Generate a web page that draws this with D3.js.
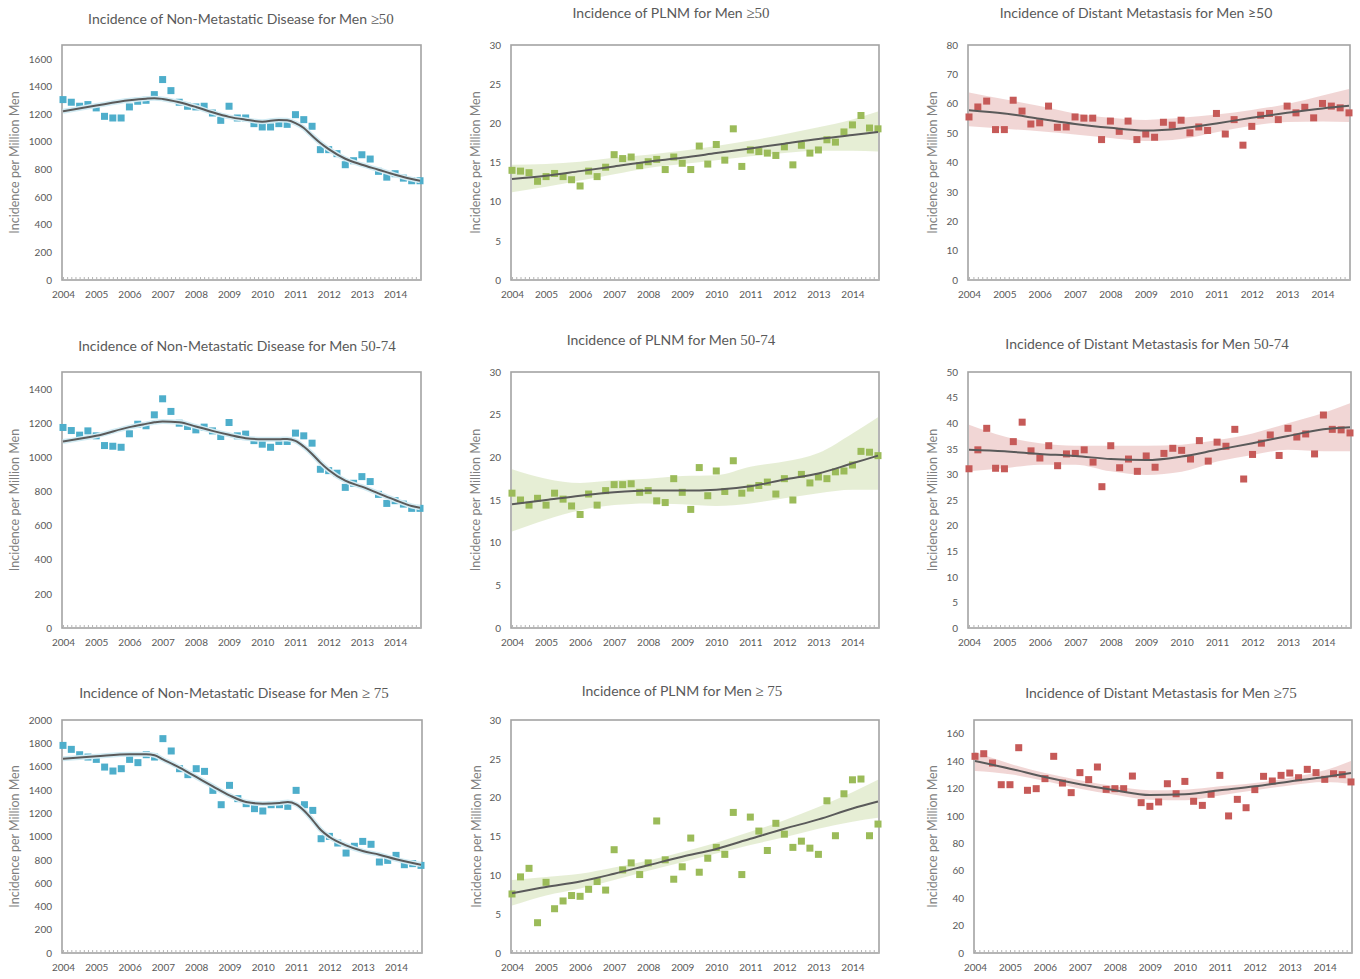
<!DOCTYPE html>
<html lang="en">

<head>
    <meta charset="UTF-8">
    <script src="https://cdn.jsdelivr.net/npm/d3@7"></script>
    <title>Incidence per Million Men</title>
    <style>
        body { margin: 0; background: #fff; }
        svg text { font-family: Lato, "Open Sans", sans-serif; }
    </style>
</head>

<body>
    <svg id="chart" width="1360" height="979"></svg>
</body>
<script>
    // quarters 2004 Q1 .. 2014 Q4
    var quarters = d3.range(44).map(function(i) { return 2004 + i / 4; });
    var yearTicks = [2004, 2005, 2006, 2007, 2008, 2009, 2010, 2011, 2012, 2013, 2014];

    // observed quarterly incidence
    var nonMet50 = [1305, 1286, 1257, 1269, 1245, 1184, 1172, 1172, 1252, 1293, 1300, 1341, 1450, 1370, 1286, 1257, 1252, 1257, 1208, 1155, 1257, 1172, 1172, 1131, 1107, 1107, 1131, 1126, 1196, 1160, 1112, 943, 943, 914, 834, 863, 906, 875, 786, 744, 769, 737, 718, 718];
    var nonMet5074 = [1175, 1157, 1130, 1155, 1126, 1069, 1065, 1059, 1138, 1194, 1185, 1249, 1343, 1269, 1200, 1181, 1161, 1177, 1155, 1122, 1204, 1126, 1136, 1098, 1077, 1059, 1093, 1093, 1142, 1126, 1083, 930, 922, 907, 824, 848, 887, 858, 783, 730, 746, 726, 701, 701];
    var nonMet75 = [1782, 1748, 1702, 1682, 1662, 1596, 1562, 1582, 1662, 1634, 1702, 1682, 1840, 1734, 1582, 1531, 1582, 1559, 1396, 1273, 1439, 1325, 1282, 1239, 1219, 1273, 1273, 1259, 1396, 1273, 1224, 981, 1001, 944, 858, 916, 958, 933, 781, 795, 838, 758, 767, 752];
    var plnm50 = [14.0, 13.9, 13.7, 12.6, 13.2, 13.6, 13.2, 12.8, 12.0, 13.9, 13.2, 14.4, 16.0, 15.5, 15.7, 14.6, 15.1, 15.4, 14.1, 15.7, 14.9, 14.1, 17.1, 14.8, 17.3, 15.3, 19.3, 14.5, 16.6, 16.4, 16.2, 15.9, 17.0, 14.7, 17.2, 16.2, 16.6, 17.9, 17.6, 18.9, 19.8, 21.0, 19.4, 19.3];
    var plnm5074 = [15.8, 15.0, 14.4, 15.2, 14.4, 15.8, 15.1, 14.3, 13.3, 15.7, 14.4, 16.1, 16.8, 16.8, 16.9, 15.9, 16.1, 14.9, 14.7, 17.5, 15.9, 13.9, 18.8, 15.5, 18.4, 16.0, 19.6, 15.8, 16.4, 16.7, 17.1, 15.7, 17.5, 15.0, 18.0, 17.0, 17.7, 17.5, 18.3, 18.4, 19.1, 20.7, 20.6, 20.2];
    var plnm75 = [7.6, 9.8, 10.9, 3.9, 9.1, 5.7, 6.7, 7.4, 7.3, 8.2, 9.2, 8.1, 13.3, 10.7, 11.6, 10.1, 11.6, 17.0, 12.0, 9.5, 11.1, 14.8, 10.4, 12.2, 13.6, 12.7, 18.1, 10.1, 17.5, 15.7, 13.2, 16.7, 15.3, 13.6, 14.4, 13.5, 12.7, 19.6, 15.1, 20.5, 22.3, 22.4, 15.1, 16.6];
    var dist50 = [55.5, 58.9, 60.9, 51.2, 51.2, 61.2, 57.5, 53.1, 53.5, 59.2, 52.0, 52.1, 55.5, 55.1, 55.1, 47.8, 54.1, 50.6, 54.1, 47.8, 49.7, 48.6, 53.7, 52.7, 54.4, 50.1, 52.1, 50.9, 56.7, 49.7, 54.6, 45.9, 52.3, 56.1, 56.7, 54.6, 59.2, 56.9, 58.8, 55.2, 60.1, 59.2, 58.6, 56.9];
    var dist5074 = [31.1, 34.8, 39.0, 31.2, 31.1, 36.4, 40.2, 34.6, 33.2, 35.6, 31.7, 34.0, 34.1, 34.8, 32.4, 27.6, 35.6, 31.3, 33.0, 30.6, 33.6, 31.4, 34.1, 35.1, 34.7, 33.0, 36.6, 32.6, 36.3, 35.5, 38.8, 29.1, 33.9, 36.1, 37.7, 33.7, 39.0, 37.3, 37.9, 34.0, 41.6, 38.8, 38.7, 38.1];
    var dist75 = [143.5, 145.4, 138.6, 122.8, 122.8, 149.8, 118.7, 119.9, 127.2, 143.5, 124.0, 117.0, 131.6, 126.5, 135.7, 119.4, 119.9, 119.9, 129.1, 109.7, 107.0, 110.2, 123.5, 116.2, 125.2, 110.7, 107.7, 115.8, 129.6, 100.0, 112.1, 106.0, 119.2, 128.9, 125.5, 129.6, 131.3, 127.9, 134.0, 131.6, 126.7, 130.8, 130.1, 124.8];

    // smoothed fits (non-metastatic: read at these points)
    var nonMetFitX = [2004, 2005, 2006, 2006.5, 2006.75, 2007, 2007.5, 2008, 2008.5, 2009, 2009.5, 2010, 2010.5, 2010.75, 2011, 2011.25, 2011.5, 2011.75, 2012, 2012.5, 2013, 2013.5, 2014, 2014.5, 2014.75];
    var nonMet50Fit = [1220, 1262, 1300, 1312, 1315, 1310, 1286, 1252, 1213, 1180, 1160, 1145, 1158, 1155, 1135, 1100, 1044, 991, 947, 877, 834, 798, 761, 730, 718];
    var nonMet5074Fit = [1093, 1126, 1177, 1196, 1205, 1210, 1206, 1181, 1155, 1132, 1112, 1106, 1106, 1108, 1096, 1063, 1020, 969, 926, 863, 828, 789, 750, 715, 705];
    var nonMet75Fit = [1668, 1688, 1705, 1705, 1697, 1662, 1591, 1511, 1431, 1353, 1296, 1282, 1288, 1296, 1276, 1219, 1139, 1053, 996, 924, 875, 844, 804, 772, 758];

    // fits with confidence bands (yearly)
    var bandX = [2004, 2005, 2006, 2007, 2008, 2009, 2010, 2011, 2012, 2013, 2014, 2014.75];
    var plnm50Fit = [12.9, 13.3, 13.9, 14.5, 15.1, 15.6, 16.2, 16.8, 17.4, 18.0, 18.5, 18.9];
    var plnm50Lo = [11.2, 11.9, 12.7, 13.5, 14.3, 14.8, 15.3, 15.8, 16.2, 16.5, 16.5, 16.4];
    var plnm50Hi = [14.7, 14.8, 15.1, 15.6, 16.0, 16.5, 17.1, 17.8, 18.6, 19.5, 20.5, 21.5];
    var plnm5074Fit = [14.5, 15.0, 15.5, 15.9, 16.1, 16.1, 16.2, 16.6, 17.4, 18.1, 19.3, 20.2];
    var plnm5074Lo = [11.3, 12.7, 13.8, 14.4, 14.6, 14.5, 14.3, 14.6, 15.2, 15.8, 16.2, 16.2];
    var plnm5074Hi = [18.6, 17.5, 17.0, 17.3, 17.5, 17.8, 17.9, 18.9, 19.5, 20.5, 22.8, 24.7];
    var plnm75Fit = [7.7, 8.5, 9.2, 10.2, 11.3, 12.4, 13.4, 14.7, 16.0, 17.2, 18.6, 19.5];
    var plnm75Lo = [6.1, 7.4, 8.3, 9.4, 10.6, 11.7, 12.8, 13.9, 14.9, 16.0, 16.9, 17.4];
    var plnm75Hi = [9.4, 9.8, 10.2, 11.0, 11.9, 13.0, 14.2, 15.6, 17.1, 18.8, 20.7, 22.3];
    var dist50Fit = [57.8, 56.7, 54.9, 53.1, 51.8, 50.9, 51.6, 53.3, 55.2, 56.9, 58.4, 59.3];
    var dist50Lo = [52.3, 51.5, 50.6, 49.5, 48.3, 47.3, 48.0, 50.3, 52.5, 53.8, 54.0, 53.8];
    var dist50Hi = [63.8, 61.5, 59.2, 56.7, 55.2, 54.5, 55.2, 56.3, 57.9, 59.9, 62.8, 65.0];
    var dist5074Fit = [34.8, 34.5, 34.0, 33.6, 33.0, 32.8, 33.5, 34.8, 36.1, 37.5, 38.8, 39.2];
    var dist5074Lo = [30.6, 31.2, 31.9, 31.9, 30.6, 29.9, 30.5, 32.5, 33.8, 34.8, 34.5, 34.5];
    var dist5074Hi = [39.7, 37.4, 36.1, 35.6, 35.6, 35.6, 35.8, 36.7, 38.0, 40.0, 42.0, 43.9];
    var dist75Fit = [140.1, 134.5, 128.4, 123.1, 118.7, 115.2, 115.8, 118.7, 121.6, 125.2, 128.4, 131.3];
    var dist75Lo = [132.8, 130.4, 125.5, 119.9, 115.5, 111.9, 111.4, 115.0, 118.7, 122.3, 124.8, 123.5];
    var dist75Hi = [146.6, 138.1, 131.3, 126.0, 121.6, 118.7, 119.2, 121.6, 124.0, 127.9, 133.3, 140.1];

    // y tick labels
    var ticksNonMet50 = [0, 200, 400, 600, 800, 1000, 1200, 1400, 1600];
    var ticksNonMet5074 = [0, 200, 400, 600, 800, 1000, 1200, 1400];
    var ticksNonMet75 = [0, 200, 400, 600, 800, 1000, 1200, 1400, 1600, 1800, 2000];
    var ticksPlnm = [0, 5, 10, 15, 20, 25, 30];
    var ticksDist50 = [0, 10, 20, 30, 40, 50, 60, 70, 80];
    var ticksDist5074 = [0, 5, 10, 15, 20, 25, 30, 35, 40, 45, 50];
    var ticksDist75 = [0, 20, 40, 60, 80, 100, 120, 140, 160];

    var yTitle = "Incidence per Million Men";

    var blue = "#4eaecb", green = "#9bbb59", red = "#c65a58";

    var panels = [
        { title: ["Incidence of Non-Metastatic Disease for Men ", "\u226550"], tx: 241, ty: 24, box: [62, 45, 421, 280], ytx: 15, yMax: 1700, ticks: ticksNonMet50, pts: nonMet50, fx: nonMetFitX, fit: nonMet50Fit, color: blue },
        { title: ["Incidence of PLNM for Men ", "\u226550"], tx: 671, ty: 18, box: [511, 45, 879, 280], ytx: 476, yMax: 30, ticks: ticksPlnm, pts: plnm50, fx: bandX, fit: plnm50Fit, lo: plnm50Lo, hi: plnm50Hi, color: green },
        { title: ["Incidence of Distant Metastasis for Men \u226550", ""], tx: 1136, ty: 18, box: [968, 45, 1350, 280], ytx: 933, yMax: 80, ticks: ticksDist50, pts: dist50, fx: bandX, fit: dist50Fit, lo: dist50Lo, hi: dist50Hi, color: red },
        { title: ["Incidence of Non-Metastatic Disease for Men ", "50-74"], tx: 237, ty: 351, box: [62, 372, 421, 628], ytx: 15, yMax: 1500, ticks: ticksNonMet5074, pts: nonMet5074, fx: nonMetFitX, fit: nonMet5074Fit, color: blue },
        { title: ["Incidence of PLNM for Men ", "50-74"], tx: 671, ty: 345, box: [511, 372, 879, 628], ytx: 476, yMax: 30, ticks: ticksPlnm, pts: plnm5074, fx: bandX, fit: plnm5074Fit, lo: plnm5074Lo, hi: plnm5074Hi, color: green },
        { title: ["Incidence of Distant Metastasis for Men ", "50-74"], tx: 1147, ty: 349, box: [968, 372, 1351, 628], ytx: 933, yMax: 50, ticks: ticksDist5074, pts: dist5074, fx: bandX, fit: dist5074Fit, lo: dist5074Lo, hi: dist5074Hi, color: red },
        { title: ["Incidence of Non-Metastatic Disease for Men ", "\u2265 75"], tx: 234, ty: 698, box: [62, 720, 422, 953], ytx: 15, yMax: 2000, ticks: ticksNonMet75, pts: nonMet75, fx: nonMetFitX, fit: nonMet75Fit, color: blue },
        { title: ["Incidence of PLNM for Men ", "\u2265 75"], tx: 682, ty: 696, box: [511, 720, 879, 953], ytx: 477, yMax: 30, ticks: ticksPlnm, pts: plnm75, fx: bandX, fit: plnm75Fit, lo: plnm75Lo, hi: plnm75Hi, color: green },
        { title: ["Incidence of Distant Metastasis for Men ", "\u226575"], tx: 1161, ty: 698, box: [974, 720, 1352, 953], ytx: 933, yMax: 170, ticks: ticksDist75, pts: dist75, fx: bandX, fit: dist75Fit, lo: dist75Lo, hi: dist75Hi, color: red }
    ];

    var svg = d3.select("#chart");
    var minorTicks = d3.range(2004, 2014.76, 0.125);

    var drawPanel = function(p) {
        var left = p.box[0], top = p.box[1], right = p.box[2], bottom = p.box[3];
        var x = d3.scaleLinear().domain([2004, 2014.75]).range([left + 1, right - 1]);
        var y = d3.scaleLinear().domain([0, p.yMax]).range([bottom, top]);
        var g = svg.append("g");

        // title
        var t = g.append("text").attr("x", p.tx).attr("y", p.ty)
            .attr("text-anchor", "middle").attr("font-size", "14px").attr("fill", "#595959");
        t.append("tspan").text(p.title[0]);
        if (p.title[1]) {
            t.append("tspan").attr("style", "font-family:'Liberation Serif',serif").attr("font-size", "15px").text(p.title[1]);
        }

        // confidence band
        if (p.lo) {
            var band = p.fx.map(function(d, i) { return { x: d, lo: p.lo[i], hi: p.hi[i] }; });
            g.append("path").datum(band)
                .attr("fill", p.color).attr("fill-opacity", 0.25)
                .attr("d", d3.area().curve(d3.curveMonotoneX)
                    .x(function(d) { return x(d.x); })
                    .y0(function(d) { return y(d.lo); })
                    .y1(function(d) { return y(d.hi); }));
        }

        // box
        g.append("rect").attr("x", left).attr("y", top)
            .attr("width", right - left).attr("height", bottom - top)
            .attr("fill", "none").attr("stroke", "#a3a3a3").attr("stroke-width", 1.6);

        // y axis
        var ya = g.append("g").attr("transform", "translate(" + left + ",0)")
            .call(d3.axisLeft(y).tickValues(p.ticks).tickFormat(d3.format("d")).tickSize(0).tickPadding(10));
        ya.select(".domain").remove();
        ya.selectAll("text").attr("font-size", "10px").attr("fill", "#595959")
            .style("font-family", "Lato, 'Open Sans', sans-serif");

        // minor ticks on the x axis
        var xm = g.append("g").attr("transform", "translate(0," + bottom + ")")
            .call(d3.axisBottom(x).tickValues(minorTicks).tickSize(-3).tickFormat(""));
        xm.select(".domain").remove();
        xm.selectAll("line").attr("stroke", "#b5b5b5");

        // x labels
        var xa = g.append("g").attr("transform", "translate(0," + bottom + ")")
            .call(d3.axisBottom(x).tickValues(yearTicks).tickFormat(d3.format("d")).tickSize(0).tickPadding(11));
        xa.select(".domain").remove();
        xa.selectAll("text").attr("font-size", "10px").attr("fill", "#595959")
            .style("font-family", "Lato, 'Open Sans', sans-serif");

        // y axis title
        g.append("text")
            .attr("transform", "translate(" + p.ytx + "," + ((top + bottom) / 2) + ") rotate(-90)")
            .attr("text-anchor", "middle").attr("dy", "0.35em")
            .attr("font-size", "12.5px").attr("fill", "#7f7f7f").text(yTitle);

        // points
        var s = 7;
        g.selectAll("rect.pt").data(p.pts).enter().append("rect").attr("class", "pt")
            .attr("x", function(d, i) { return x(quarters[i]) - s / 2; })
            .attr("y", function(d) { return y(d) - s / 2; })
            .attr("width", s).attr("height", s)
            .attr("fill", p.color);

        // fitted line
        var fitData = p.fx.map(function(d, i) { return [d, p.fit[i]]; });
        var line = d3.line().curve(d3.curveMonotoneX)
            .x(function(d) { return x(d[0]); })
            .y(function(d) { return y(d[1]); });
        if (!p.lo) {
            g.append("path").datum(fitData).attr("fill", "none")
                .attr("stroke", "#d2ebf3").attr("stroke-width", 5).attr("d", line);
        }
        g.append("path").datum(fitData).attr("fill", "none")
            .attr("stroke", "#5a5a5a").attr("stroke-width", 2).attr("d", line);
    };

    panels.forEach(drawPanel);
</script>

</html>
